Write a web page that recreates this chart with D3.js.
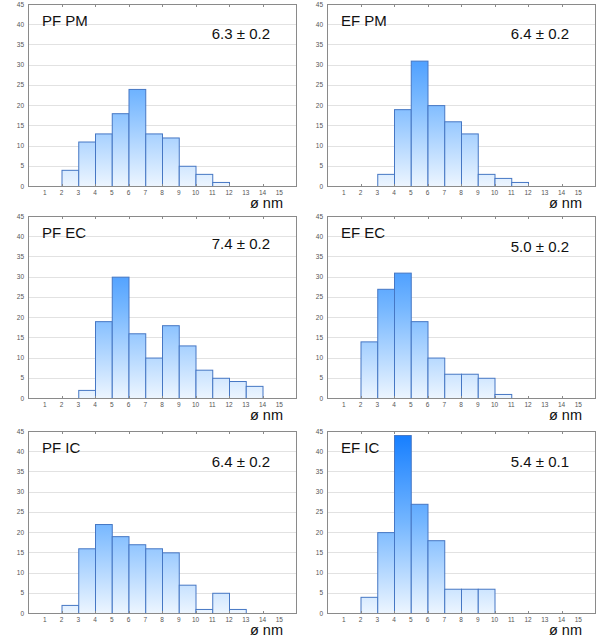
<!DOCTYPE html>
<html>
<head>
<meta charset="utf-8">
<script src="https://cdn.jsdelivr.net/npm/d3@7"></script>
<style>
  body { margin: 0; background: #fff; }
  svg { display: block; font-family: "Liberation Sans", Arial, sans-serif; }
</style>
</head>
<body>
<div id="chart"></div>
<script>
// bins start at 1..15 (nm), count per bin
var bins = [1, 2, 3, 4, 5, 6, 7, 8, 9, 10, 11, 12, 13, 14, 15];

var pfPM = [0, 4, 11, 13, 18, 24, 13, 12, 5, 3, 1, 0, 0, 0, 0];
var efPM = [0, 0, 3, 19, 31, 20, 16, 13, 3, 2, 1, 0, 0, 0, 0];
var pfEC = [0, 0, 2, 19, 30, 16, 10, 18, 13, 7, 5, 4.2, 3, 0, 0];
var efEC = [0, 14, 27, 31, 19, 10, 6, 6, 5, 1, 0, 0, 0, 0, 0];
var pfIC = [0, 2, 16, 22, 19, 17, 16, 15, 7, 1, 5, 1, 0, 0, 0];
var efIC = [0, 4, 20, 44, 27, 18, 6, 6, 6, 0, 0, 0, 0, 0, 0];

var titles = ["PF PM", "EF PM", "PF EC", "EF EC", "PF IC", "EF IC"];
var means = ["6.3 \u00b1 0.2", "6.4 \u00b1 0.2", "7.4 \u00b1 0.2", "5.0 \u00b1 0.2", "6.4 \u00b1 0.2", "5.4 \u00b1 0.1"];
var series = [pfPM, efPM, pfEC, efEC, pfIC, efIC];

var xTicks = d3.range(1, 16);
var yTicks = d3.range(0, 46, 5);

// panel placement (plot areas)
var colX = [28, 327];
var rowY = [4, 216, 431];
var plotW = 268;
var plotH = 182;
// vertical offset of the mean text per panel
var meanDy = [29, 29, 27, 30, 30, 30];

var svg = d3.select("#chart")
    .append("svg")
    .attr("width", 600)
    .attr("height", 638);

var defs = svg.append("defs");

series.forEach(function(values, i) {
    var left = colX[i % 2];
    var top = rowY[Math.floor(i / 2)];

    var x = d3.scaleLinear().domain([0, 16]).range([0, plotW]);
    var y = d3.scaleLinear().domain([0, 45]).range([plotH, 0]);

    var g = svg.append("g")
        .attr("transform", `translate(${left}, ${top})`);

    // gradient tied to the plot height (local coords of the group)
    var grad = defs.append("linearGradient")
        .attr("id", "grad" + i)
        .attr("gradientUnits", "userSpaceOnUse")
        .attr("x1", 0).attr("x2", 0)
        .attr("y1", y(45)).attr("y2", y(0));
    grad.append("stop").attr("offset", "0").attr("stop-color", "#127cff");
    grad.append("stop").attr("offset", "0.5").attr("stop-color", "#74b6ff");
    grad.append("stop").attr("offset", "1").attr("stop-color", "#ecf5ff");

    // grid
    g.selectAll(".grid")
        .data(yTicks.slice(1, -1))
        .enter()
        .append("line")
        .attr("x1", 0)
        .attr("x2", plotW)
        .attr("y1", function(d) { return Math.round(y(d)) + 0.5; })
        .attr("y2", function(d) { return Math.round(y(d)) + 0.5; })
        .attr("stroke", "#e2e2e2");

    // bars
    g.selectAll("rect.bar")
        .data(bins.map(function(b, j) { return {bin: b, value: values[j]}; })
            .filter(function(d) { return d.value > 0; }))
        .enter()
        .append("rect")
        .attr("class", "bar")
        .attr("x", function(d) { return x(d.bin) + 0.5; })
        .attr("y", function(d) { return y(d.value) + 0.5; })
        .attr("width", function(d) { return x(d.bin + 1) - x(d.bin); })
        .attr("height", function(d) { return y(0) - y(d.value); })
        .attr("fill", "url(#grad" + i + ")")
        .attr("stroke", "#4677c4")
        .attr("stroke-width", 1);

    // frame
    g.append("rect")
        .attr("x", 0.5)
        .attr("y", 0.5)
        .attr("width", plotW)
        .attr("height", plotH)
        .attr("fill", "none")
        .attr("stroke", "#8a8a8a");

    // small inward ticks on top and bottom
    var even = d3.range(2, 16, 2);
    g.selectAll(".tt")
        .data(even)
        .enter()
        .append("line")
        .attr("x1", function(d) { return Math.round(x(d)) + 0.5; })
        .attr("x2", function(d) { return Math.round(x(d)) + 0.5; })
        .attr("y1", 0).attr("y2", 3)
        .attr("stroke", "#8a8a8a");
    g.selectAll(".bt")
        .data(even)
        .enter()
        .append("line")
        .attr("x1", function(d) { return Math.round(x(d)) + 0.5; })
        .attr("x2", function(d) { return Math.round(x(d)) + 0.5; })
        .attr("y1", plotH - 2).attr("y2", plotH + 1)
        .attr("stroke", "#8a8a8a");

    // y tick labels
    g.selectAll(".ylab")
        .data(yTicks)
        .enter()
        .append("text")
        .attr("x", -4)
        .attr("y", function(d) { return y(d) + 2.5; })
        .attr("text-anchor", "end")
        .attr("font-size", "6.5px")
        .attr("fill", "#555")
        .text(function(d) { return d; });

    // x tick labels
    g.selectAll(".xlab")
        .data(xTicks)
        .enter()
        .append("text")
        .attr("x", function(d) { return x(d); })
        .attr("y", plotH + 9)
        .attr("text-anchor", "middle")
        .attr("font-size", "6.5px")
        .attr("fill", "#555")
        .text(function(d) { return d; });

    // panel title and mean
    g.append("text")
        .attr("x", 14)
        .attr("y", 22)
        .attr("font-size", "15px")
        .attr("fill", "#111")
        .text(titles[i]);

    g.append("text")
        .attr("x", plotW - 26)
        .attr("y", meanDy[i] + 5.5)
        .attr("text-anchor", "end")
        .attr("font-size", "15px")
        .attr("fill", "#111")
        .text(means[i]);

    // axis unit
    g.append("text")
        .attr("x", plotW - 13)
        .attr("y", plotH + 22)
        .attr("text-anchor", "end")
        .attr("font-size", "14.5px")
        .attr("fill", "#111")
        .text("\u00f8 nm");
});
</script>
</body>
</html>
